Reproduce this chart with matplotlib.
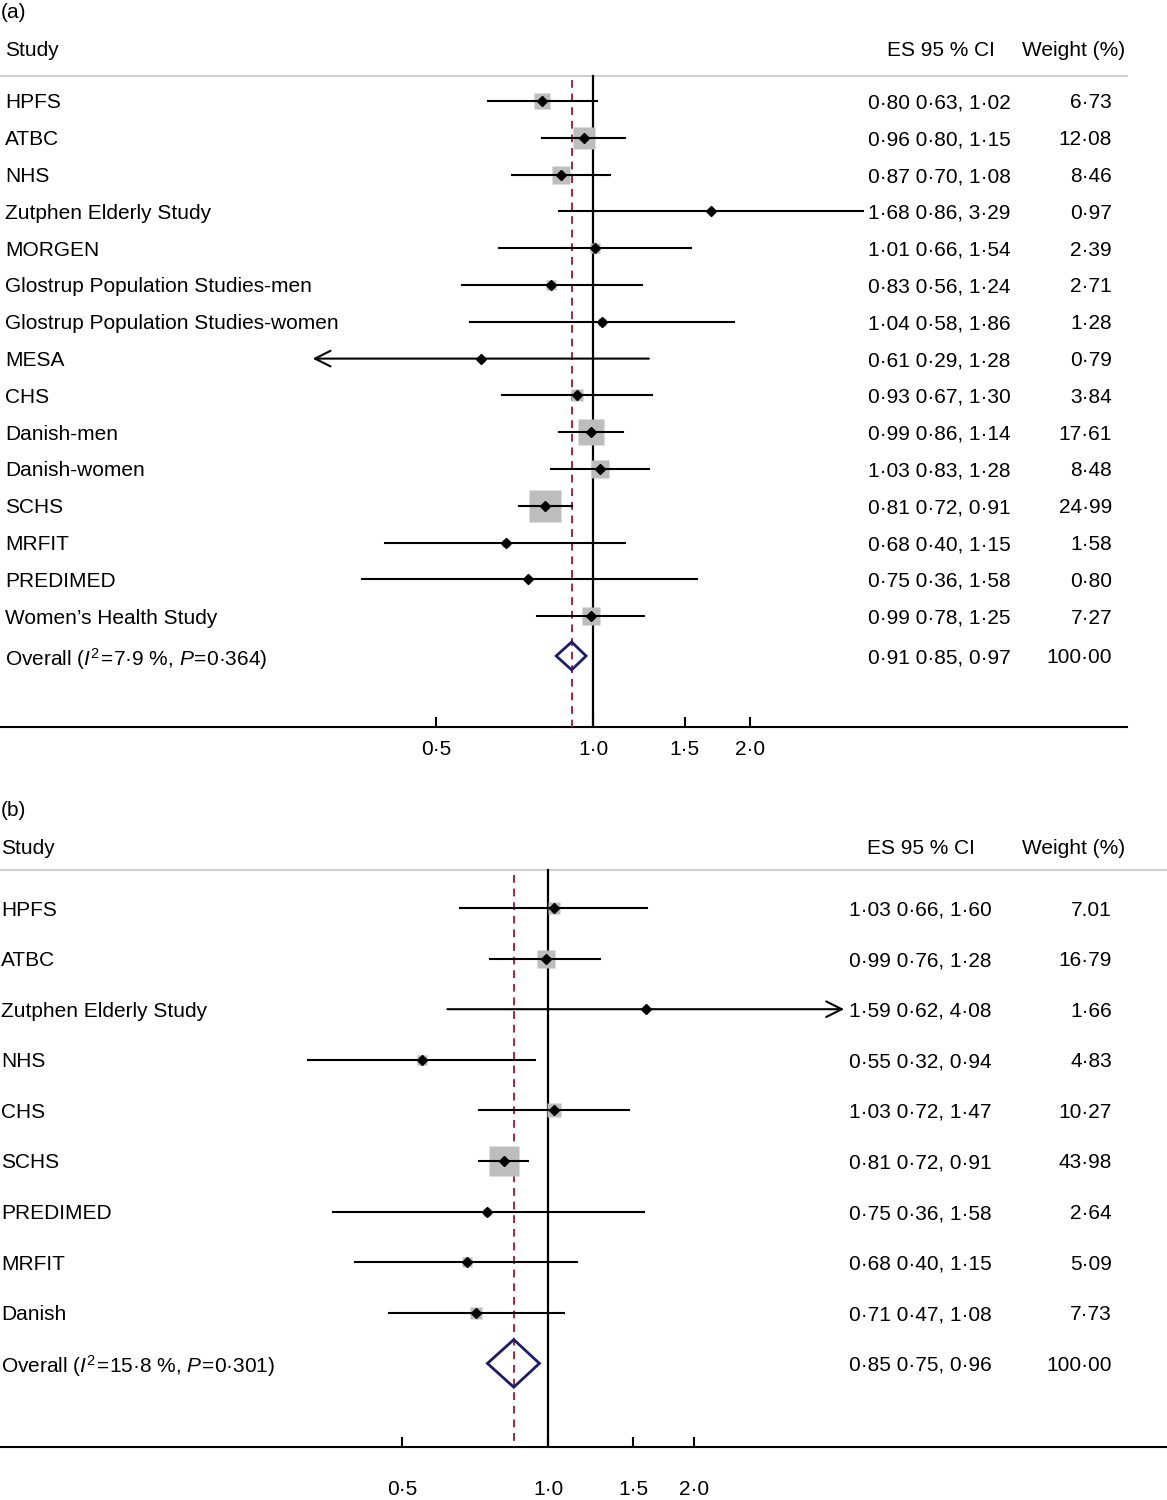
import numpy as np
import matplotlib.pyplot as plt
from matplotlib.patches import Polygon

plt.rcParams['font.family'] = ['Liberation Sans', 'DejaVu Sans']
plt.rcParams['mathtext.fontset'] = 'custom'
plt.rcParams['mathtext.rm'] = 'Liberation Sans'
plt.rcParams['mathtext.it'] = 'Liberation Sans:italic'

# ---- data, panel (a)
studies_a = ['HPFS', 'ATBC', 'NHS', 'Zutphen Elderly Study', 'MORGEN',
             'Glostrup Population Studies-men', 'Glostrup Population Studies-women',
             'MESA', 'CHS', 'Danish-men', 'Danish-women', 'SCHS', 'MRFIT',
             'PREDIMED', "Women\u2019s Health Study"]
es_a = [0.80, 0.96, 0.87, 1.68, 1.01, 0.83, 1.04, 0.61, 0.93, 0.99, 1.03, 0.81, 0.68, 0.75, 0.99]
lo_a = [0.63, 0.80, 0.70, 0.86, 0.66, 0.56, 0.58, 0.29, 0.67, 0.86, 0.83, 0.72, 0.40, 0.36, 0.78]
hi_a = [1.02, 1.15, 1.08, 3.29, 1.54, 1.24, 1.86, 1.28, 1.30, 1.14, 1.28, 0.91, 1.15, 1.58, 1.25]
weight_a = ['6·73', '12·08', '8·46', '0·97', '2·39', '2·71', '1·28', '0·79', '3·84',
            '17·61', '8·48', '24·99', '1·58', '0·80', '7·27']
arrow_a = ['', '', '', '', '', '', '', 'left', '', '', '', '', '', '', '']
overall_a = (0.91, 0.85, 0.97)
overall_label_a = r'Overall ($\mathit{I}^{2}\!=\!$7·9 %, $\mathit{P}\!=\!$0·364)'

# ---- data, panel (b)
studies_b = ['HPFS', 'ATBC', 'Zutphen Elderly Study', 'NHS', 'CHS', 'SCHS',
             'PREDIMED', 'MRFIT', 'Danish']
es_b = [1.03, 0.99, 1.59, 0.55, 1.03, 0.81, 0.75, 0.68, 0.71]
lo_b = [0.66, 0.76, 0.62, 0.32, 0.72, 0.72, 0.36, 0.40, 0.47]
hi_b = [1.60, 1.28, 4.08, 0.94, 1.47, 0.91, 1.58, 1.15, 1.08]
weight_b = ['7.01', '16·79', '1·66', '4·83', '10·27', '43·98', '2·64', '5·09', '7·73']
arrow_b = ['', '', 'right', '', '', '', '', '', '']
overall_b = (0.85, 0.75, 0.96)
overall_label_b = r'Overall ($\mathit{I}^{2}\!=\!$15·8 %, $\mathit{P}\!=\!$0·301)'

ticks = [0.5, 1.0, 1.5, 2.0]
tick_labels = ['0·5', '1·0', '1·5', '2·0']

W, H = 1167, 1500
fig = plt.figure(figsize=(W / 100, H / 100), dpi=100)

FS = 15
BOX = '#bdbdbd'
DASH = '#9b2b3f'
NAVY = '#1c1c6b'


def fmt(v):
    return f'{v:.2f}'.replace('.', '·')


def panel(tag, studies, es, lo, hi, weights, arrows, overall, overall_label,
          top_px, bottom_px, row0, step, one_px, px_ln, head_px, line_px,
          box_k, dia_h, line_right, es_x, es_head_x, axis_right, label_x, over_off, pad):
    ax = fig.add_axes([0, 1 - bottom_px / H, 1, (bottom_px - top_px) / H])
    row = lambda p: (p - row0) / step
    ax.set_xscale('log')
    ax.set_xlim(np.exp(-one_px / px_ln), np.exp((W - one_px) / px_ln))
    ax.set_ylim(row(bottom_px), row(top_px))
    for s in ax.spines.values():
        s.set_visible(False)
    ax.yaxis.set_visible(False)
    ax.set_xticks(ticks)
    ax.set_xticklabels(tick_labels)
    ax.minorticks_off()
    ax.tick_params(axis='x', direction='in', length=7, width=1.5, pad=pad, labelsize=FS)
    ybot = row(bottom_px)
    ax.axhline(ybot, xmin=0, xmax=axis_right / W, color='black', lw=1.5, clip_on=False)

    tr = ax.get_yaxis_transform()
    ytop = row(line_px)
    ax.axhline(ytop, xmin=0, xmax=line_right / W, color='#c8c8c8', lw=1.2)
    ax.plot([1, 1], [ytop, ybot], color='black', lw=1.6)
    ax.plot([overall[0]] * 2, [ytop + 0.1, ybot], color=DASH, lw=1.4, ls=(0, (4, 3)))

    kw = dict(transform=tr, fontsize=FS, va='center_baseline')
    ax.text(1 / W, row(head_px - 38), tag, **kw)
    ax.text(label_x / W, row(head_px), 'Study', **kw)
    ax.text(es_head_x / W, row(head_px), 'ES 95 % CI', **kw)
    ax.text(1022 / W, row(head_px), 'Weight (%)', **kw)

    for i, name in enumerate(studies):
        w = float(weights[i].replace('·', '.'))
        side = box_k * np.sqrt(w) * 0.72
        ax.plot(es[i], i, marker='s', ms=side, color=BOX, mec='none', zorder=2)
        if arrows[i]:
            a, b = (lo[i], hi[i]) if arrows[i] == 'right' else (hi[i], lo[i])
            ax.annotate('', xy=(b, i), xytext=(a, i),
                        arrowprops=dict(arrowstyle='->', lw=1.5, color='black',
                                        mutation_scale=28, shrinkA=0, shrinkB=0), zorder=3)
        else:
            ax.plot([lo[i], hi[i]], [i, i], color='black', lw=1.5, zorder=3)
        ax.plot(es[i], i, marker='D', ms=5.5, color='black', zorder=4)
        ax.text(label_x / W, i, name, **kw)
        ax.text(es_x / W, i, f'{fmt(es[i])} {fmt(lo[i])}, {fmt(hi[i])}', **kw)
        ax.text(1112 / W, i, weights[i], ha='right', **kw)

    yo = len(studies) + over_off
    e, l, h = overall
    ax.add_patch(Polygon([(l, yo), (e, yo - dia_h), (h, yo), (e, yo + dia_h)],
                         closed=True, fill=False, edgecolor=NAVY, lw=2, zorder=5))
    ax.text(label_x / W, yo, overall_label, **kw)
    ax.text(es_x / W, yo, f'{fmt(e)} {fmt(l)}, {fmt(h)}', **kw)
    ax.text(1112 / W, yo, '100·00', ha='right', **kw)
    return ax


panel('(a)', studies_a, es_a, lo_a, hi_a, weight_a, arrow_a, overall_a, overall_label_a,
      top_px=0, bottom_px=727, row0=101, step=36.8, one_px=593, px_ln=226.5,
      head_px=48, line_px=76, box_k=6.4, dia_h=0.38, line_right=1127,
      es_x=868, es_head_x=887, axis_right=1127, label_x=5, over_off=0.08, pad=9.5)

panel('(b)', studies_b, es_b, lo_b, hi_b, weight_b, arrow_b, overall_b, overall_label_b,
      top_px=790, bottom_px=1447, row0=908, step=50.6, one_px=548, px_ln=210.6,
      head_px=846, line_px=870, box_k=4.5, dia_h=0.47, line_right=1167,
      es_x=849, es_head_x=867, axis_right=1167, label_x=1, over_off=0.0, pad=24)

fig.savefig('out.png', dpi=100)
